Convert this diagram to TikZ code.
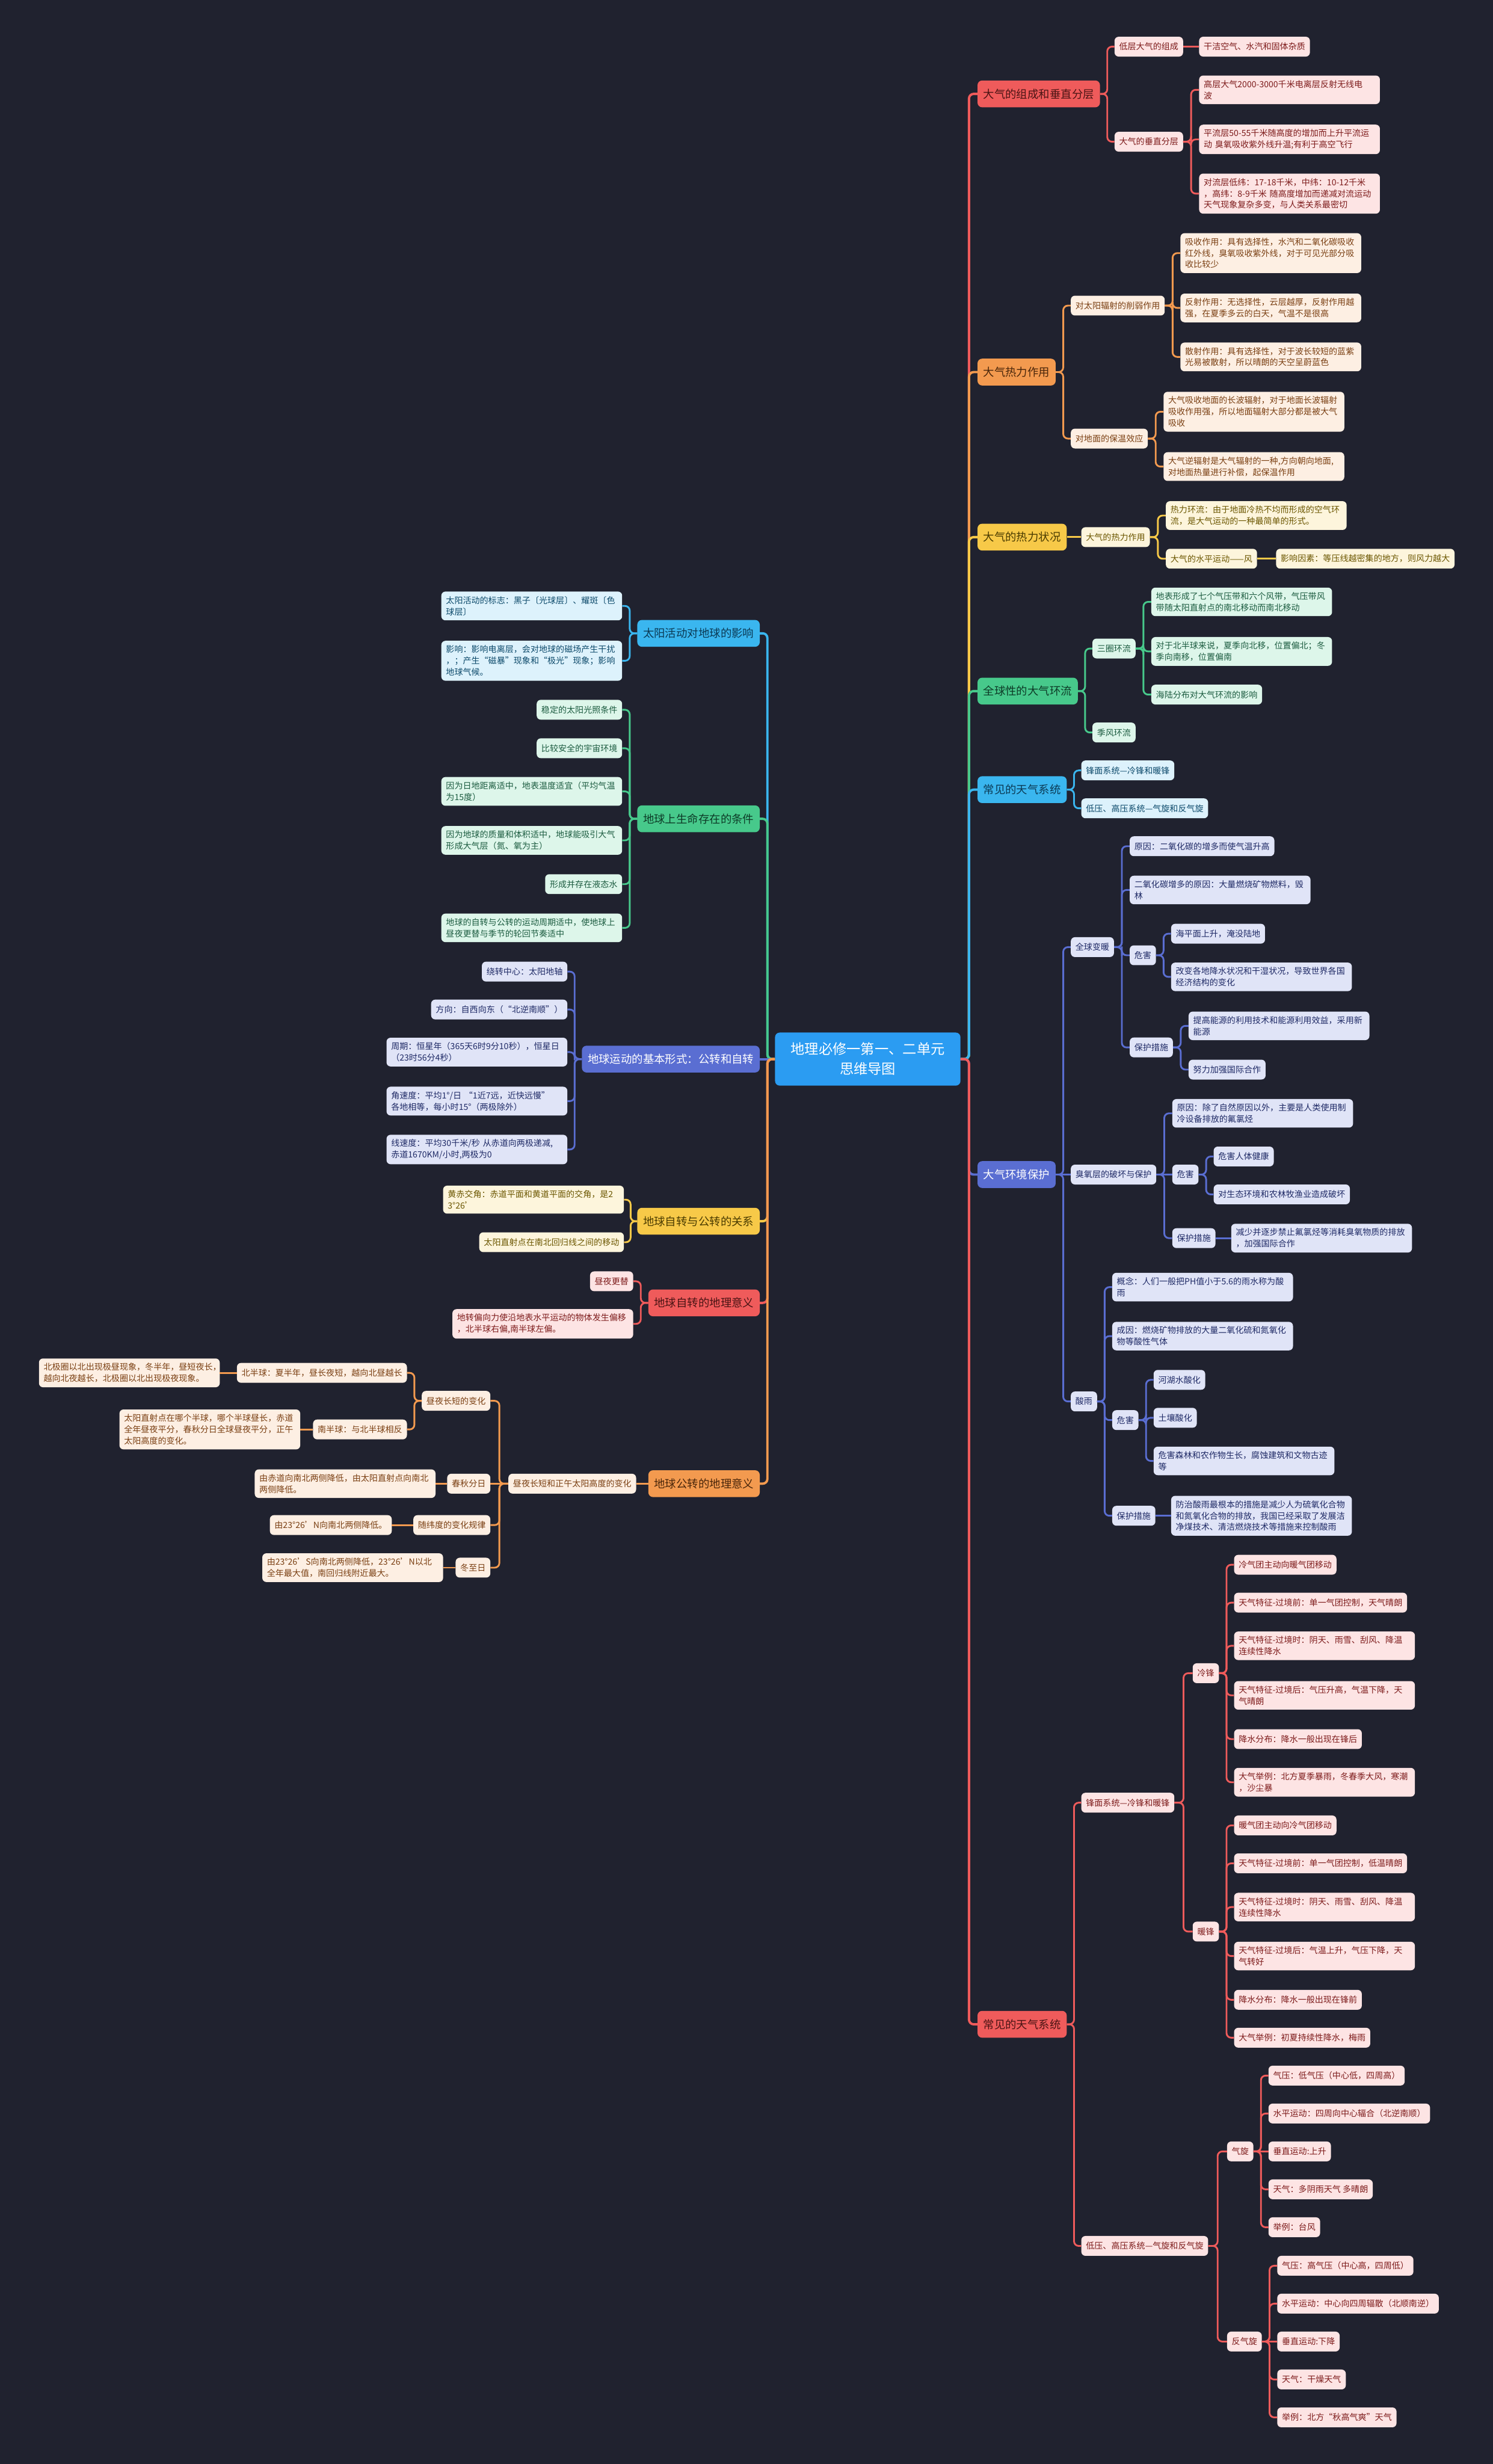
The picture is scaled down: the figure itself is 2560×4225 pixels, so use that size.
\documentclass[tikz,border=0pt]{standalone}
\usepackage{fontspec}
\setmainfont{Noto Sans CJK SC}
\usetikzlibrary{calc}
\definecolor{bg}{HTML}{20222F}
\definecolor{cenM}{HTML}{2B9CF2}
\definecolor{redM}{HTML}{EF5B5B}\definecolor{redL}{HTML}{FDE4E4}\definecolor{redT}{HTML}{7D1B1B}\definecolor{redD}{HTML}{4A1414}
\definecolor{orgM}{HTML}{F39A4F}\definecolor{orgL}{HTML}{FDEFE3}\definecolor{orgT}{HTML}{7A3F12}\definecolor{orgD}{HTML}{4A260A}
\definecolor{ylwM}{HTML}{F7C948}\definecolor{ylwL}{HTML}{FDF5DC}\definecolor{ylwT}{HTML}{6B5600}\definecolor{ylwD}{HTML}{4A3B00}
\definecolor{grnM}{HTML}{47C98B}\definecolor{grnL}{HTML}{DDF6EA}\definecolor{grnT}{HTML}{1C5C40}\definecolor{grnD}{HTML}{0D3B27}
\definecolor{bluM}{HTML}{3AB6EF}\definecolor{bluL}{HTML}{DDF2FC}\definecolor{bluT}{HTML}{0D4A6B}\definecolor{bluD}{HTML}{0B3A55}
\definecolor{indM}{HTML}{5A6ED2}\definecolor{indL}{HTML}{E0E4F7}\definecolor{indT}{HTML}{1F2A66}\definecolor{indD}{HTML}{FFFFFF}
\tikzset{
 nb/.style={rounded corners=7pt, inner xsep=8pt, inner ysep=8pt, minimum height=34pt, align=left, font=\fontsize{14.5}{19.5}\selectfont},
 mb/.style={rounded corners=8pt, inner xsep=10pt, inner ysep=8pt, minimum height=46pt, align=left, font=\fontsize{19}{24}\selectfont},
 leaf/.style={nb, fill=#1L, text=#1T},
 main/.style={mb, fill=#1M, text=#1D},
 ln/.style={draw=#1M, line width=3pt, rounded corners=8pt},
 lnm/.style={draw=#1M, line width=4pt, rounded corners=8pt},
 aw/.style={anchor=west}, ae/.style={anchor=east},
 tw/.style={text width=294pt}
}
\newcommand\rcon[3]{\draw[#1] (#2.east) -| ($(#2.east)!0.5!(#3.west)$) |- (#3.west);}
\newcommand\lcon[3]{\draw[#1] (#2.west) -| ($(#2.west)!0.5!(#3.east)$) |- (#3.east);}
\newcommand\rstr[3]{\draw[#1] (#2.east) -- (#3.west);}
\newcommand\lstr[3]{\draw[#1] (#2.west) -- (#3.east);}
\begin{document}
\begin{tikzpicture}[x=1pt,y=-1pt]
\useasboundingbox (0,0) rectangle (2560,4225);
\fill[bg] (0,0) rectangle (2560,4225);
% center
\node[font=\fontsize{24}{34}\selectfont, fill=cenM, text=white, rounded corners=8pt, minimum width=318pt, minimum height=91pt, align=center] (C) at (1488,1816) {地理必修一第一、二单元\\思维导图};
% right main
\node[main=red, aw] (R1) at (1676,161) {大气的组成和垂直分层};
\node[main=org, aw] (R2) at (1676,638) {大气热力作用};
\node[main=ylw, aw] (R3) at (1676,921) {大气的热力状况};
\node[main=grn, aw] (R4) at (1676,1185) {全球性的大气环流};
\node[main=blu, aw] (R5) at (1676,1354) {常见的天气系统};
\node[main=ind, aw] (R6) at (1676,2014) {大气环境保护};
\node[main=red, aw] (R7) at (1676,3471) {常见的天气系统};
% R1
\node[leaf=red, aw] (R1a) at (1911,80) {低层大气的组成};
\node[leaf=red, aw] (R1a1) at (2056,80) {干洁空气、水汽和固体杂质};
\node[leaf=red, aw] (R1b) at (1911,243) {大气的垂直分层};
\node[leaf=red, aw, tw] (R1b1) at (2056,154) {高层大气2000-3000千米电离层反射无线电\\波};
\node[leaf=red, aw, tw] (R1b2) at (2056,239) {平流层50-55千米随高度的增加而上升平流运\\动 臭氧吸收紫外线升温;有利于高空飞行};
\node[leaf=red, aw, tw] (R1b3) at (2056,332) {对流层低纬：17-18千米，中纬：10-12千米\\，高纬：8-9千米 随高度增加而递减对流运动\\天气现象复杂多变，与人类关系最密切};
% R2
\node[leaf=org, aw] (R2a) at (1836,524) {对太阳辐射的削弱作用};
\node[leaf=org, aw, tw] (R2a1) at (2024,434) {吸收作用：具有选择性，水汽和二氧化碳吸收\\红外线，臭氧吸收紫外线，对于可见光部分吸\\收比较少};
\node[leaf=org, aw, tw] (R2a2) at (2024,528) {反射作用：无选择性，云层越厚，反射作用越\\强，在夏季多云的白天，气温不是很高};
\node[leaf=org, aw, tw] (R2a3) at (2024,612) {散射作用：具有选择性，对于波长较短的蓝紫\\光易被散射，所以晴朗的天空呈蔚蓝色};
\node[leaf=org, aw] (R2b) at (1836,752) {对地面的保温效应};
\node[leaf=org, aw, tw] (R2b1) at (1995,706) {大气吸收地面的长波辐射，对于地面长波辐射\\吸收作用强，所以地面辐射大部分都是被大气\\吸收};
\node[leaf=org, aw, tw] (R2b2) at (1995,800) {大气逆辐射是大气辐射的一种,方向朝向地面,\\对地面热量进行补偿，起保温作用};
% R3
\node[leaf=ylw, aw] (R3a) at (1854,921) {大气的热力作用};
\node[leaf=ylw, aw, tw] (R3a1) at (1999,884) {热力环流：由于地面冷热不均而形成的空气环\\流，是大气运动的一种最简单的形式。};
\node[leaf=ylw, aw] (R3a2) at (1999,958) {大气的水平运动——风};
\node[leaf=ylw, aw] (R3a2a) at (2188,958) {影响因素：等压线越密集的地方，则风力越大};
% R4
\node[leaf=grn, aw] (R4a) at (1873,1112) {三圈环流};
\node[leaf=grn, aw, tw] (R4a1) at (1974,1032) {地表形成了七个气压带和六个风带，气压带风\\带随太阳直射点的南北移动而南北移动};
\node[leaf=grn, aw, tw] (R4a2) at (1974,1117) {对于北半球来说，夏季向北移，位置偏北；冬\\季向南移，位置偏南};
\node[leaf=grn, aw] (R4a3) at (1974,1191) {海陆分布对大气环流的影响};
\node[leaf=grn, aw] (R4b) at (1873,1256) {季风环流};
% R5
\node[leaf=blu, aw] (R5a) at (1854,1321) {锋面系统—冷锋和暖锋};
\node[leaf=blu, aw] (R5b) at (1854,1386) {低压、高压系统—气旋和反气旋};
% R6
\node[leaf=ind, aw] (R6a) at (1836,1624) {全球变暖};
\node[leaf=ind, aw] (R6a1) at (1937,1451) {原因：二氧化碳的增多而使气温升高};
\node[leaf=ind, aw, tw] (R6a2) at (1937,1526) {二氧化碳增多的原因：大量燃烧矿物燃料，毁\\林};
\node[leaf=ind, aw] (R6a3) at (1937,1638) {危害};
\node[leaf=ind, aw] (R6a31) at (2008,1601) {海平面上升，淹没陆地};
\node[leaf=ind, aw, tw] (R6a32) at (2008,1675) {改变各地降水状况和干湿状况，导致世界各国\\经济结构的变化};
\node[leaf=ind, aw] (R6a4) at (1937,1796) {保护措施};
\node[leaf=ind, aw, tw] (R6a41) at (2038,1759) {提高能源的利用技术和能源利用效益，采用新\\能源};
\node[leaf=ind, aw] (R6a42) at (2038,1834) {努力加强国际合作};
\node[leaf=ind, aw] (R6b) at (1836,2014) {臭氧层的破坏与保护};
\node[leaf=ind, aw, tw] (R6b1) at (2010,1909) {原因：除了自然原因以外，主要是人类使用制\\冷设备排放的氟氯烃};
\node[leaf=ind, aw] (R6b2) at (2010,2014) {危害};
\node[leaf=ind, aw] (R6b21) at (2081,1983) {危害人体健康};
\node[leaf=ind, aw] (R6b22) at (2081,2048) {对生态环境和农林牧渔业造成破坏};
\node[leaf=ind, aw] (R6b3) at (2010,2123) {保护措施};
\node[leaf=ind, aw, tw] (R6b31) at (2111,2123) {减少并逐步禁止氟氯烃等消耗臭氧物质的排放\\，加强国际合作};
\node[leaf=ind, aw] (R6c) at (1836,2403) {酸雨};
\node[leaf=ind, aw, tw] (R6c1) at (1907,2207) {概念：人们一般把PH值小于5.6的雨水称为酸\\雨};
\node[leaf=ind, aw, tw] (R6c2) at (1907,2291) {成因：燃烧矿物排放的大量二氧化硫和氮氧化\\物等酸性气体};
\node[leaf=ind, aw] (R6c3) at (1907,2435) {危害};
\node[leaf=ind, aw] (R6c31) at (1978,2366) {河湖水酸化};
\node[leaf=ind, aw] (R6c32) at (1978,2431) {土壤酸化};
\node[leaf=ind, aw, tw] (R6c33) at (1978,2505) {危害森林和农作物生长，腐蚀建筑和文物古迹\\等};
\node[leaf=ind, aw] (R6c4) at (1907,2599) {保护措施};
\node[leaf=ind, aw, tw] (R6c41) at (2008,2599) {防治酸雨最根本的措施是减少人为硫氧化合物\\和氮氧化合物的排放，我国已经采取了发展洁\\净煤技术、清洁燃烧技术等措施来控制酸雨};
% R7
\node[leaf=red, aw] (R7a) at (1854,3091) {锋面系统—冷锋和暖锋};
\node[leaf=red, aw] (R7a1) at (2045,2869) {冷锋};
\node[leaf=red, aw] (R7a11) at (2116,2683) {冷气团主动向暖气团移动};
\node[leaf=red, aw] (R7a12) at (2116,2748) {天气特征-过境前：单一气团控制，天气晴朗};
\node[leaf=red, aw, tw] (R7a13) at (2116,2822) {天气特征-过境时：阴天、雨雪、刮风、降温\\连续性降水};
\node[leaf=red, aw, tw] (R7a14) at (2116,2907) {天气特征-过境后：气压升高，气温下降，天\\气晴朗};
\node[leaf=red, aw] (R7a15) at (2116,2982) {降水分布：降水一般出现在锋后};
\node[leaf=red, aw, tw] (R7a16) at (2116,3056) {大气举例：北方夏季暴雨，冬春季大风，寒潮\\，沙尘暴};
\node[leaf=red, aw] (R7a2) at (2045,3312) {暖锋};
\node[leaf=red, aw] (R7a21) at (2116,3130) {暖气团主动向冷气团移动};
\node[leaf=red, aw] (R7a22) at (2116,3195) {天气特征-过境前：单一气团控制，低温晴朗};
\node[leaf=red, aw, tw] (R7a23) at (2116,3270) {天气特征-过境时：阴天、雨雪、刮风、降温\\连续性降水};
\node[leaf=red, aw, tw] (R7a24) at (2116,3354) {天气特征-过境后：气温上升，气压下降，天\\气转好};
\node[leaf=red, aw] (R7a25) at (2116,3429) {降水分布：降水一般出现在锋前};
\node[leaf=red, aw] (R7a26) at (2116,3494) {大气举例：初夏持续性降水，梅雨};
\node[leaf=red, aw] (R7b) at (1854,3851) {低压、高压系统—气旋和反气旋};
\node[leaf=red, aw] (R7b1) at (2104,3689) {气旋};
\node[leaf=red, aw] (R7b11) at (2175,3559) {气压：低气压（中心低，四周高）};
\node[leaf=red, aw] (R7b12) at (2175,3624) {水平运动：四周向中心辐合（北逆南顺）};
\node[leaf=red, aw] (R7b13) at (2175,3689) {垂直运动:上升};
\node[leaf=red, aw] (R7b14) at (2175,3754) {天气：多阴雨天气 多晴朗};
\node[leaf=red, aw] (R7b15) at (2175,3819) {举例：台风};
\node[leaf=red, aw] (R7b2) at (2104,4015) {反气旋};
\node[leaf=red, aw] (R7b21) at (2190,3885) {气压：高气压（中心高，四周低）};
\node[leaf=red, aw] (R7b22) at (2190,3950) {水平运动：中心向四周辐散（北顺南逆）};
\node[leaf=red, aw] (R7b23) at (2190,4015) {垂直运动:下降};
\node[leaf=red, aw] (R7b24) at (2190,4080) {天气：干燥天气};
\node[leaf=red, aw] (R7b25) at (2190,4145) {举例：北方“秋高气爽”天气};
% left main
\node[main=blu, ae] (L1) at (1303,1086) {太阳活动对地球的影响};
\node[main=grn, ae] (L2) at (1303,1404) {地球上生命存在的条件};
\node[main=ind, ae] (L3) at (1303,1816) {地球运动的基本形式：公转和自转};
\node[main=ylw, ae] (L4) at (1303,2094) {地球自转与公转的关系};
\node[main=red, ae] (L5) at (1303,2234) {地球自转的地理意义};
\node[main=org, ae] (L6) at (1303,2544) {地球公转的地理意义};
% L1
\node[leaf=blu, ae, tw] (L1a) at (1067,1039) {太阳活动的标志：黑子〔光球层〕、耀斑〔色\\球层〕};
\node[leaf=blu, ae, tw] (L1b) at (1067,1133) {影响：影响电离层，会对地球的磁场产生干扰\\，；产生“磁暴”现象和“极光”现象；影响\\地球气候。};
% L2
\node[leaf=grn, ae] (L2a) at (1067,1217) {稳定的太阳光照条件};
\node[leaf=grn, ae] (L2b) at (1067,1283) {比较安全的宇宙环境};
\node[leaf=grn, ae, tw] (L2c) at (1067,1357) {因为日地距离适中，地表温度适宜（平均气温\\为15度）};
\node[leaf=grn, ae, tw] (L2d) at (1067,1441) {因为地球的质量和体积适中，地球能吸引大气\\形成大气层（氮、氧为主）};
\node[leaf=grn, ae] (L2e) at (1067,1516) {形成并存在液态水};
\node[leaf=grn, ae, tw] (L2f) at (1067,1591) {地球的自转与公转的运动周期适中，使地球上\\昼夜更替与季节的轮回节奏适中};
% L3
\node[leaf=ind, ae] (L3a) at (973,1666) {绕转中心：太阳地轴};
\node[leaf=ind, ae] (L3b) at (973,1731) {方向：自西向东（“北逆南顺”）};
\node[leaf=ind, ae, tw] (L3c) at (973,1804) {周期：恒星年（365天6时9分10秒），恒星日\\（23时56分4秒）};
\node[leaf=ind, ae, tw] (L3d) at (973,1888) {角速度：平均1°/日 “1近7远，近快远慢”\\各地相等，每小时15°（两极除外）};
\node[leaf=ind, ae, tw] (L3e) at (973,1971) {线速度：平均30千米/秒 从赤道向两极递减,\\赤道1670KM/小时,两极为0};
% L4
\node[leaf=ylw, ae, tw] (L4a) at (1070,2057) {黄赤交角：赤道平面和黄道平面的交角，是2\\3°26'};
\node[leaf=ylw, ae] (L4b) at (1070,2130) {太阳直射点在南北回归线之间的移动};
% L5
\node[leaf=red, ae] (L5a) at (1086,2197) {昼夜更替};
\node[leaf=red, ae, tw] (L5b) at (1086,2270) {地转偏向力使沿地表水平运动的物体发生偏移\\，北半球右偏,南半球左偏。};
% L6
\node[leaf=org, ae] (L6a) at (1091,2544) {昼夜长短和正午太阳高度的变化};
\node[leaf=org, ae] (L6a1) at (841,2402) {昼夜长短的变化};
\node[leaf=org, ae] (L6a11) at (698,2354) {北半球：夏半年，昼长夜短，越向北昼越长};
\node[leaf=org, ae, tw] (L6a111) at (377,2354) {北极圈以北出现极昼现象，冬半年，昼短夜长，\\越向北夜越长，北极圈以北出现极夜现象。};
\node[leaf=org, ae] (L6a12) at (698,2451) {南半球：与北半球相反};
\node[leaf=org, ae, tw] (L6a121) at (515,2451) {太阳直射点在哪个半球，哪个半球昼长，赤道\\全年昼夜平分，春秋分日全球昼夜平分，正午\\太阳高度的变化。};
\node[leaf=org, ae] (L6a2) at (841,2544) {春秋分日};
\node[leaf=org, ae, tw] (L6a21) at (747,2544) {由赤道向南北两侧降低，由太阳直射点向南北\\两侧降低。};
\node[leaf=org, ae] (L6a3) at (841,2615) {随纬度的变化规律};
\node[leaf=org, ae] (L6a31) at (672,2615) {由23°26'N向南北两侧降低。};
\node[leaf=org, ae] (L6a4) at (841,2688) {冬至日};
\node[leaf=org, ae, tw] (L6a41) at (760,2688) {由23°26'S向南北两侧降低，23°26'N以北\\全年最大值，南回归线附近最大。};
% connectors right main
\rcon{lnm=red}{C}{R1}
\rcon{lnm=org}{C}{R2}
\rcon{lnm=ylw}{C}{R3}
\rcon{lnm=grn}{C}{R4}
\rcon{lnm=blu}{C}{R5}
\rcon{lnm=ind}{C}{R6}
\rcon{lnm=red}{C}{R7}
% left main
\lcon{lnm=blu}{C}{L1}
\lcon{lnm=grn}{C}{L2}
\lstr{lnm=ind}{C}{L3}
\lcon{lnm=ylw}{C}{L4}
\lcon{lnm=red}{C}{L5}
\lcon{lnm=org}{C}{L6}
% R1
\rcon{ln=red}{R1}{R1a}\rcon{ln=red}{R1}{R1b}\rstr{ln=red}{R1a}{R1a1}
\rcon{ln=red}{R1b}{R1b1}\rcon{ln=red}{R1b}{R1b2}\rcon{ln=red}{R1b}{R1b3}
% R2
\rcon{ln=org}{R2}{R2a}\rcon{ln=org}{R2}{R2b}
\rcon{ln=org}{R2a}{R2a1}\rcon{ln=org}{R2a}{R2a2}\rcon{ln=org}{R2a}{R2a3}
\rcon{ln=org}{R2b}{R2b1}\rcon{ln=org}{R2b}{R2b2}
% R3
\rstr{ln=ylw}{R3}{R3a}\rcon{ln=ylw}{R3a}{R3a1}\rcon{ln=ylw}{R3a}{R3a2}\rstr{ln=ylw}{R3a2}{R3a2a}
% R4
\rcon{ln=grn}{R4}{R4a}\rcon{ln=grn}{R4}{R4b}
\rcon{ln=grn}{R4a}{R4a1}\rcon{ln=grn}{R4a}{R4a2}\rcon{ln=grn}{R4a}{R4a3}
% R5
\rcon{ln=blu}{R5}{R5a}\rcon{ln=blu}{R5}{R5b}
% R6
\rcon{ln=ind}{R6}{R6a}\rstr{ln=ind}{R6}{R6b}\rcon{ln=ind}{R6}{R6c}
\rcon{ln=ind}{R6a}{R6a1}\rcon{ln=ind}{R6a}{R6a2}\rcon{ln=ind}{R6a}{R6a3}\rcon{ln=ind}{R6a}{R6a4}
\rcon{ln=ind}{R6a3}{R6a31}\rcon{ln=ind}{R6a3}{R6a32}
\rcon{ln=ind}{R6a4}{R6a41}\rcon{ln=ind}{R6a4}{R6a42}
\rcon{ln=ind}{R6b}{R6b1}\rstr{ln=ind}{R6b}{R6b2}\rcon{ln=ind}{R6b}{R6b3}
\rcon{ln=ind}{R6b2}{R6b21}\rcon{ln=ind}{R6b2}{R6b22}
\rstr{ln=ind}{R6b3}{R6b31}
\rcon{ln=ind}{R6c}{R6c1}\rcon{ln=ind}{R6c}{R6c2}\rcon{ln=ind}{R6c}{R6c3}\rcon{ln=ind}{R6c}{R6c4}
\rcon{ln=ind}{R6c3}{R6c31}\rcon{ln=ind}{R6c3}{R6c32}\rcon{ln=ind}{R6c3}{R6c33}
\rstr{ln=ind}{R6c4}{R6c41}
% R7
\rcon{ln=red}{R7}{R7a}\rcon{ln=red}{R7}{R7b}
\rcon{ln=red}{R7a}{R7a1}\rcon{ln=red}{R7a}{R7a2}
\rcon{ln=red}{R7a1}{R7a11}\rcon{ln=red}{R7a1}{R7a12}\rcon{ln=red}{R7a1}{R7a13}\rcon{ln=red}{R7a1}{R7a14}\rcon{ln=red}{R7a1}{R7a15}\rcon{ln=red}{R7a1}{R7a16}
\rcon{ln=red}{R7a2}{R7a21}\rcon{ln=red}{R7a2}{R7a22}\rcon{ln=red}{R7a2}{R7a23}\rcon{ln=red}{R7a2}{R7a24}\rcon{ln=red}{R7a2}{R7a25}\rcon{ln=red}{R7a2}{R7a26}
\rcon{ln=red}{R7b}{R7b1}\rcon{ln=red}{R7b}{R7b2}
\rcon{ln=red}{R7b1}{R7b11}\rcon{ln=red}{R7b1}{R7b12}\rstr{ln=red}{R7b1}{R7b13}\rcon{ln=red}{R7b1}{R7b14}\rcon{ln=red}{R7b1}{R7b15}
\rcon{ln=red}{R7b2}{R7b21}\rcon{ln=red}{R7b2}{R7b22}\rstr{ln=red}{R7b2}{R7b23}\rcon{ln=red}{R7b2}{R7b24}\rcon{ln=red}{R7b2}{R7b25}
% left subs
\lcon{ln=blu}{L1}{L1a}\lcon{ln=blu}{L1}{L1b}
\lcon{ln=grn}{L2}{L2a}\lcon{ln=grn}{L2}{L2b}\lcon{ln=grn}{L2}{L2c}\lcon{ln=grn}{L2}{L2d}\lcon{ln=grn}{L2}{L2e}\lcon{ln=grn}{L2}{L2f}
\lcon{ln=ind}{L3}{L3a}\lcon{ln=ind}{L3}{L3b}\lcon{ln=ind}{L3}{L3c}\lcon{ln=ind}{L3}{L3d}\lcon{ln=ind}{L3}{L3e}
\lcon{ln=ylw}{L4}{L4a}\lcon{ln=ylw}{L4}{L4b}
\lcon{ln=red}{L5}{L5a}\lcon{ln=red}{L5}{L5b}
\lstr{ln=org}{L6}{L6a}
\lcon{ln=org}{L6a}{L6a1}\lstr{ln=org}{L6a}{L6a2}\lcon{ln=org}{L6a}{L6a3}\lcon{ln=org}{L6a}{L6a4}
\lcon{ln=org}{L6a1}{L6a11}\lcon{ln=org}{L6a1}{L6a12}
\lstr{ln=org}{L6a11}{L6a111}\lstr{ln=org}{L6a12}{L6a121}
\lstr{ln=org}{L6a2}{L6a21}\lstr{ln=org}{L6a3}{L6a31}\lstr{ln=org}{L6a4}{L6a41}
\end{tikzpicture}
\end{document}
